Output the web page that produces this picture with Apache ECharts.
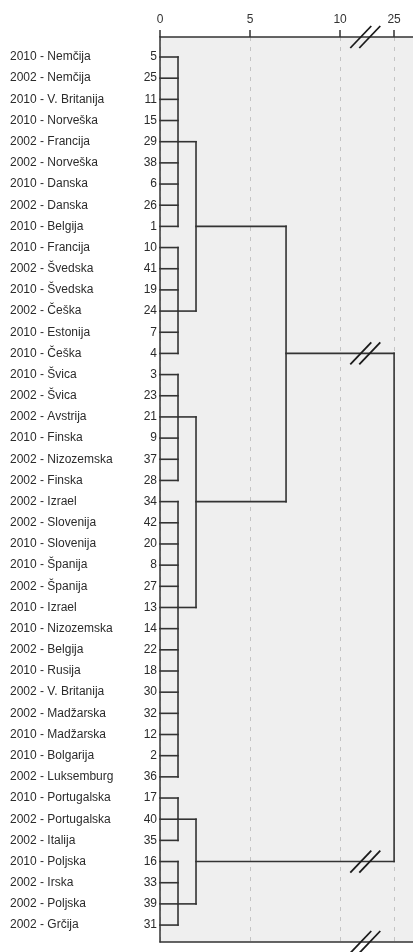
<!DOCTYPE html>
<html>
<head>
<meta charset="utf-8">
<script src="https://cdn.jsdelivr.net/npm/echarts@6/dist/echarts.min.js"></script>
<style>
html, body { margin: 0; padding: 0; background: #fff; }
#chart { width: 413px; height: 952px; }
</style>
</head>
<body>
<div id="chart"></div>
<script>
const caseLabels = [
    '2010 - Nemčija', '2002 - Nemčija', '2010 - V. Britanija', '2010 - Norveška', '2002 - Francija',
    '2002 - Norveška', '2010 - Danska', '2002 - Danska', '2010 - Belgija', '2010 - Francija',
    '2002 - Švedska', '2010 - Švedska', '2002 - Češka', '2010 - Estonija', '2010 - Češka',
    '2010 - Švica', '2002 - Švica', '2002 - Avstrija', '2010 - Finska', '2002 - Nizozemska',
    '2002 - Finska', '2002 - Izrael', '2002 - Slovenija', '2010 - Slovenija', '2010 - Španija',
    '2002 - Španija', '2010 - Izrael', '2010 - Nizozemska', '2002 - Belgija', '2010 - Rusija',
    '2002 - V. Britanija', '2002 - Madžarska', '2010 - Madžarska', '2010 - Bolgarija', '2002 - Luksemburg',
    '2010 - Portugalska', '2002 - Portugalska', '2002 - Italija', '2010 - Poljska', '2002 - Irska',
    '2002 - Poljska', '2002 - Grčija',
];
const caseNumbers = [
    5, 25, 11, 15, 29, 38, 6, 26, 1, 10, 41, 19, 24, 7, 4, 3, 23, 21, 9, 37, 28,
    34, 42, 20, 8, 27, 13, 14, 22, 18, 30, 32, 12, 2, 36, 17, 40, 35, 16, 33, 39, 31,
];

// clusters: numbers are leaf rows, strings are other clusters
const clusterIds = ['A1', 'A2', 'A', 'B1', 'B2', 'B', 'AB', 'C1', 'C2', 'C', 'root'];
const clusterHeights = [1, 1, 2, 1, 1, 2, 7, 1, 1, 2, 25]; // rescaled distance
const clusterRows = [4, 12, 8, 17, 26, 21, 14, 36, 40, 38, null]; // row of outgoing link
const clusterChildren = [
    [0, 1, 2, 3, 4, 5, 6, 7, 8],
    [9, 10, 11, 12, 13, 14],
    ['A1', 'A2'],
    [15, 16, 17, 18, 19, 20],
    [21, 22, 23, 24, 25, 26, 27, 28, 29, 30, 31, 32, 33, 34],
    ['B1', 'B2'],
    ['A', 'B'],
    [35, 36, 37],
    [38, 39, 40, 41],
    ['C1', 'C2'],
    ['AB', 'C'],
];

const distanceTicks = [0, 5, 10, 25];
const breakFrom = 10;
const breakScale = 0.2; // 10..25 squeezed into 3 units
const breakDistance = 17;
const breakLinkRows = [14, 38];

const yMin = -0.945;
const yMax = 41.8;

const toDisplay = (v) => v <= breakFrom ? v : breakFrom + (v - breakFrom) * breakScale;
const fromDisplay = (d) => d <= breakFrom ? d : breakFrom + (d - breakFrom) / breakScale;

const indexOf = {};
clusterIds.forEach((id, i) => { indexOf[id] = i; });

const endpoint = (child) => typeof child === 'number'
    ? [0, child]
    : [clusterHeights[indexOf[child]], clusterRows[indexOf[child]]];

const segments = [];
clusterIds.forEach((id, i) => {
    const h = clusterHeights[i];
    const ends = clusterChildren[i].map(endpoint);
    ends.forEach(([x, row]) => segments.push([x, row, h, row]));
    const rows = ends.map((e) => e[1]);
    segments.push([h, Math.min(...rows), h, Math.max(...rows)]);
});

const breakMarks = [yMin, ...breakLinkRows, yMax].map((row) => [breakDistance, row]);

const ink = '#333';
const font = '"Liberation Sans", Arial, sans-serif';
const tickValues = distanceTicks.map(toDisplay);
const xMax = 14.05;

const chart = echarts.init(document.getElementById('chart'), null, { renderer: 'canvas' });

chart.setOption({
    animation: false,
    backgroundColor: '#fff',
    grid: {
        left: 160, right: 0, top: 37, bottom: 10,
        show: true, borderWidth: 0, backgroundColor: '#efefef',
    },
    xAxis: [
        {
            type: 'value',
            position: 'top',
            min: 0,
            max: xMax,
            axisLine: { show: true, onZero: false, lineStyle: { color: ink, width: 1.5 } },
            axisTick: { show: true, customValues: tickValues, length: 7, inside: false, lineStyle: { color: ink, width: 1.5 } },
            axisLabel: {
                customValues: tickValues,
                formatter: (v) => String(Math.round(fromDisplay(v))),
                margin: 11,
                color: ink,
                fontSize: 12,
                fontFamily: font,
            },
            splitLine: { show: true, lineStyle: { color: '#c4c4c4', width: 1, type: [4, 6] } },
        },
        {
            type: 'value',
            position: 'bottom',
            min: 0,
            max: xMax,
            axisLine: { show: true, onZero: false, lineStyle: { color: ink, width: 1.5 } },
            axisTick: { show: false },
            axisLabel: { show: false },
            splitLine: { show: false },
        },
    ],
    yAxis: {
        type: 'value',
        inverse: true,
        min: yMin,
        max: yMax,
        axisLine: { show: true, onZero: false, lineStyle: { color: ink, width: 1.5 } },
        axisTick: { show: false },
        splitLine: { show: false },
        axisLabel: {
            customValues: caseLabels.map((_, i) => i),
            margin: 3,
            formatter: (v) => `{n|${caseLabels[v]}}{c|${caseNumbers[v]}}`,
            rich: {
                n: { width: 120, align: 'left', fontSize: 12, fontFamily: font, color: '#2b2b2b' },
                c: { width: 27, align: 'right', fontSize: 12, fontFamily: font, color: '#2b2b2b' },
            },
        },
    },
    series: [
        {
            type: 'custom',
            name: 'dendrogram',
            data: segments,
            renderItem: (params, api) => {
                const p1 = api.coord([toDisplay(api.value(0)), api.value(1)]);
                const p2 = api.coord([toDisplay(api.value(2)), api.value(3)]);
                return {
                    type: 'line',
                    shape: { x1: p1[0], y1: p1[1], x2: p2[0], y2: p2[1] },
                    style: { stroke: ink, lineWidth: 1.6, lineCap: 'square' },
                };
            },
        },
        {
            type: 'custom',
            name: 'breaks',
            data: breakMarks,
            clip: false,
            z: 5,
            renderItem: (params, api) => {
                const c = api.coord([toDisplay(api.value(0)), api.value(1)]);
                return {
                    type: 'group',
                    children: [-4.5, 4.5].map((off) => ({
                        type: 'line',
                        shape: { x1: c[0] + off - 10.5, y1: c[1] + 11, x2: c[0] + off + 10.5, y2: c[1] - 11 },
                        style: { stroke: '#1a1a1a', lineWidth: 1.8 },
                    })),
                };
            },
        },
    ],
});
</script>
</body>
</html>
